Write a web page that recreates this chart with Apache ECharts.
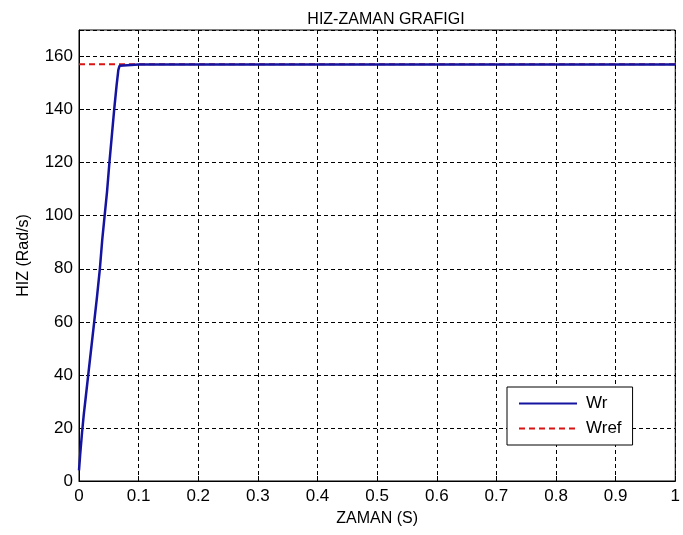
<!DOCTYPE html>
<html><head><meta charset="utf-8">
<script src="https://cdn.jsdelivr.net/npm/echarts@6/dist/echarts.min.js"></script>
<style>html,body{margin:0;padding:0;background:#fff}#c{width:683px;height:535px}</style>
</head><body><div id="c"></div>
<script>
const titleText = 'HIZ-ZAMAN GRAFIGI';
const xName = 'ZAMAN (S)';
const yName = 'HIZ (Rad/s)';
const seriesNames = ['Wr', 'Wref'];
const wrTime =  [0, 0.002, 0.005, 0.008, 0.011, 0.0155, 0.02, 0.0255, 0.03, 0.035, 0.039, 0.043, 0.047, 0.051, 0.055, 0.059, 0.063, 0.066, 0.068, 0.07, 0.1, 0.2, 0.3, 0.4, 0.5, 0.6, 0.7, 0.8, 0.9, 1.0];
const wrSpeed = [4, 10, 18, 25, 31, 40, 49, 60, 69, 80, 91, 100, 109, 120, 130, 140, 149, 155, 156.5, 157, 157, 157, 157, 157, 157, 157, 157, 157, 157, 157];
const wrefTime = [0, 1.0];
const wrefSpeed = [157.08, 157.08];

const font = 'Liberation Sans, Arial, sans-serif';
const chart = echarts.init(document.getElementById('c'));
chart.setOption({
  backgroundColor: '#fff',
  animation: false,
  title: { text: titleText, left: 381, textAlign: 'center', top: 7,
    textStyle: { fontFamily: font, fontSize: 16, fontWeight: 'normal', color: '#000' } },
  grid: { left: 79, right: 0, top: 30, bottom: 54, show: true, borderColor: '#000', borderWidth: 1, backgroundColor: '#fff' },
  xAxis: { type: 'value', min: 0, max: 1, interval: 0.1,
    name: xName, nameLocation: 'middle', nameGap: 30,
    nameTextStyle: { fontFamily: font, fontSize: 16, color: '#000' },
    axisLine: { lineStyle: { color: '#000', width: 1 } },
    axisTick: { inside: true, length: 5, lineStyle: { color: '#000' } },
    axisLabel: { fontFamily: font, fontSize: 17, color: '#000', margin: 7 },
    splitLine: { show: true, lineStyle: { color: '#000', type: [4, 3], width: 1 } } },
  yAxis: { type: 'value', min: 0, max: 170, interval: 20,
    name: yName, nameLocation: 'middle', nameGap: 47,
    nameTextStyle: { fontFamily: font, fontSize: 16, color: '#000' },
    axisLine: { show: true, lineStyle: { color: '#000', width: 1 } },
    axisTick: { show: true, inside: true, length: 5, lineStyle: { color: '#000' } },
    axisLabel: { fontFamily: font, fontSize: 17, color: '#000', margin: 6,
      formatter: v => (v % 20 === 0 ? String(v) : '') },
    splitLine: { show: true, lineStyle: { color: '#000', type: [4, 3], width: 1 } } },
  legend: { orient: 'vertical', left: 507, top: 387,
    padding: [8, 11, 8, 11], itemGap: 8, itemWidth: 58, itemHeight: 14,
    backgroundColor: '#fff', borderColor: '#000', borderWidth: 1, borderRadius: 0,
    itemStyle: { opacity: 0 },
    textStyle: { fontFamily: font, fontSize: 17, color: '#000', padding: [0, 0, 0, 4] },
    data: seriesNames },
  series: [
    { name: seriesNames[1], type: 'line', symbol: 'none', z: 2,
      data: wrefTime.map((t, i) => [t, wrefSpeed[i]]),
      lineStyle: { color: '#d81414', width: 2, type: [6, 4] }, itemStyle: { color: '#d81414' } },
    { name: seriesNames[0], type: 'line', symbol: 'none', z: 3,
      data: wrTime.map((t, i) => [t, wrSpeed[i]]),
      lineStyle: { color: '#1414a0', width: 2.5 }, itemStyle: { color: '#1414a0' } }
  ]
});
</script></body></html>
